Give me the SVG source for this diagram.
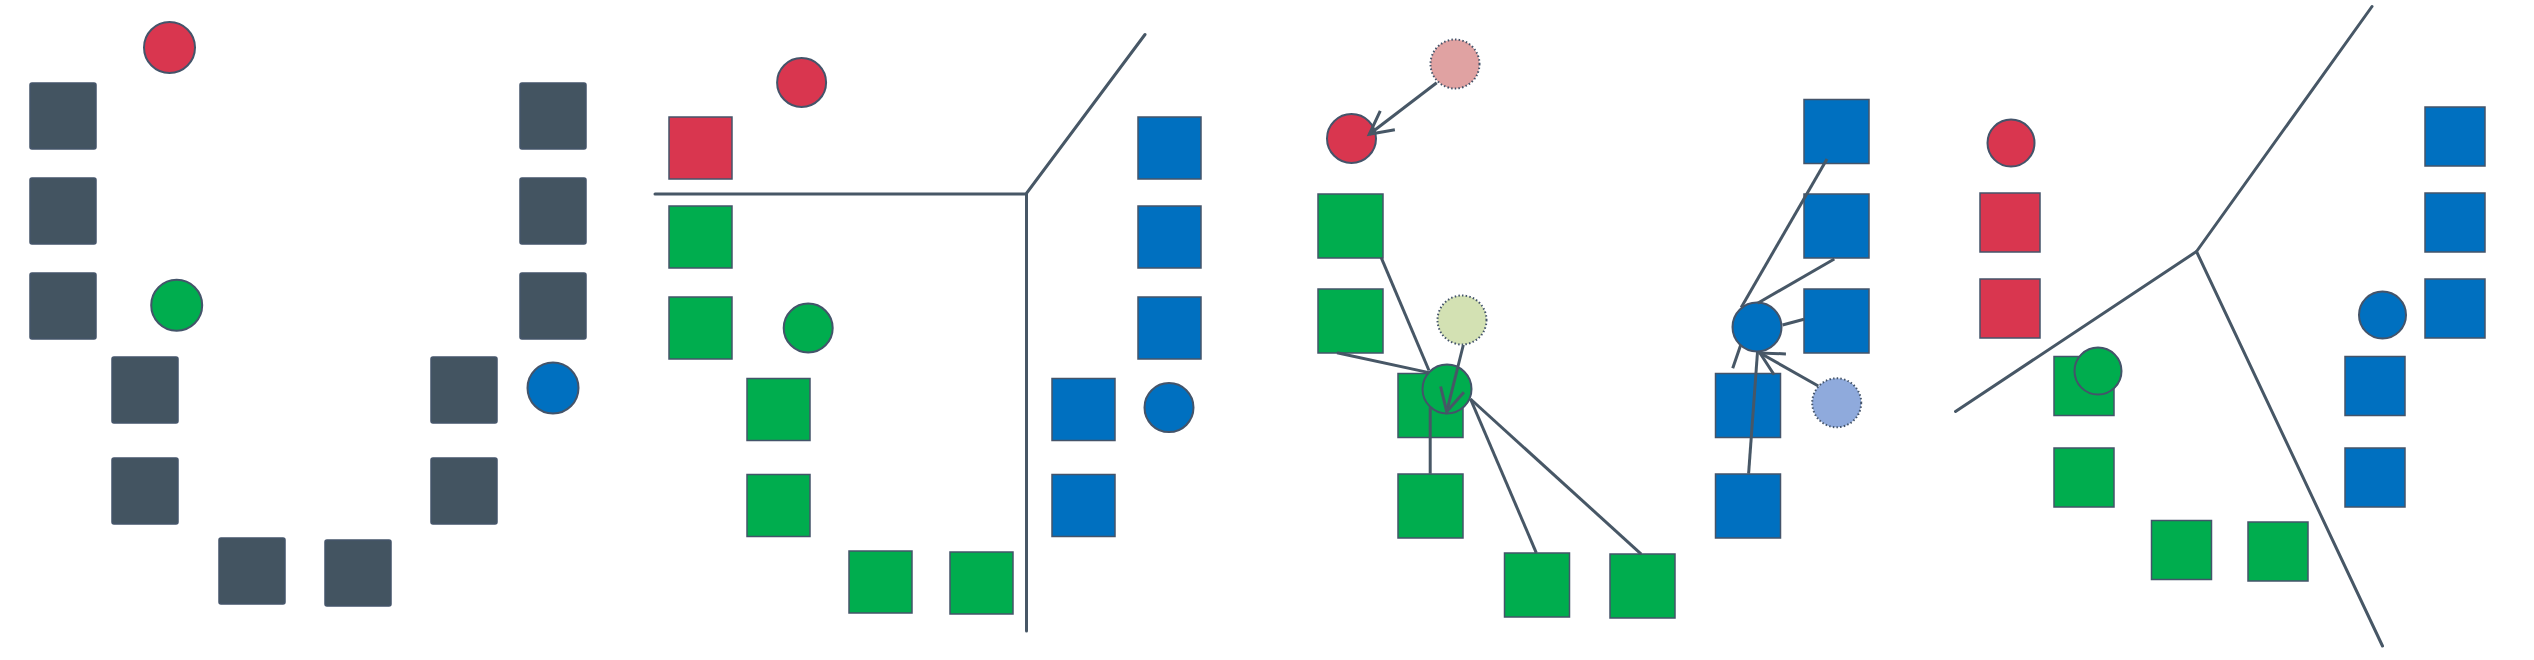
<svg xmlns="http://www.w3.org/2000/svg" width="2534" height="660" viewBox="0 0 2534 660">
<style>
.sq{stroke:#44546A;stroke-width:1.5}
.ci{stroke:#44546A;stroke-width:2}
.dot{stroke:#44546A;stroke-width:2;stroke-dasharray:1.5 2.2}
.dk{fill:#435461}
.rd{fill:#D9364F}
.gn{fill:#00AD4E}
.bl{fill:#0070C0}
.pk{fill:#E0A2A2}
.lg{fill:#D3E1B3}
.lb{fill:#8FAADC}
.ln{fill:none;stroke:#475766;stroke-width:3;stroke-linecap:round;stroke-linejoin:miter}
.cn{fill:none;stroke:#475766;stroke-width:3}
</style>
<defs>
<marker id="arr" markerUnits="userSpaceOnUse" viewBox="-28 -15 32 30" markerWidth="32" markerHeight="30" refX="0" refY="0" orient="auto">
<path d="M-23,-12 L0,0 L-23,12" fill="none" stroke="#475766" stroke-width="3"/>
</marker>
</defs>
<rect width="2534" height="660" fill="#FFFFFF"/>

<!-- Panel 1 -->
<g id="p1-nodes">
<g id="p1-s1"><rect class="sq dk" x="30" y="83" width="66" height="66" rx="2"/></g>
<g id="p1-s2"><rect class="sq dk" x="30" y="178" width="66" height="66" rx="2"/></g>
<g id="p1-s3"><rect class="sq dk" x="30" y="273" width="66" height="66" rx="2"/></g>
<g id="p1-s4"><rect class="sq dk" x="112" y="357" width="66" height="66" rx="2"/></g>
<g id="p1-s5"><rect class="sq dk" x="112" y="458" width="66" height="66" rx="2"/></g>
<g id="p1-s6"><rect class="sq dk" x="219" y="538" width="66" height="66" rx="2"/></g>
<g id="p1-s7"><rect class="sq dk" x="325" y="540" width="66" height="66" rx="2"/></g>
<g id="p1-s8"><rect class="sq dk" x="431" y="357" width="66" height="66" rx="2"/></g>
<g id="p1-s9"><rect class="sq dk" x="431" y="458" width="66" height="66" rx="2"/></g>
<g id="p1-s10"><rect class="sq dk" x="520" y="83" width="66" height="66" rx="2"/></g>
<g id="p1-s11"><rect class="sq dk" x="520" y="178" width="66" height="66" rx="2"/></g>
<g id="p1-s12"><rect class="sq dk" x="520" y="273" width="66" height="66" rx="2"/></g>
<g id="p1-c-red"><circle class="ci rd" cx="169.5" cy="47.5" r="25.5"/></g>
<g id="p1-c-green"><circle class="ci gn" cx="176.7" cy="305.3" r="25.5"/></g>
<g id="p1-c-blue"><circle class="ci bl" cx="553" cy="388" r="25.5"/></g>
</g>

<!-- Panel 2 -->
<g id="p2-nodes">
<g id="p2-r1"><rect class="sq rd" x="669" y="117" width="63" height="62"/></g>
<g id="p2-g1"><rect class="sq gn" x="669" y="206" width="63" height="62"/></g>
<g id="p2-g2"><rect class="sq gn" x="669" y="297" width="63" height="62"/></g>
<g id="p2-g3"><rect class="sq gn" x="747" y="378.5" width="63" height="62"/></g>
<g id="p2-g4"><rect class="sq gn" x="747" y="474.5" width="63" height="62"/></g>
<g id="p2-g5"><rect class="sq gn" x="849" y="551" width="63" height="62"/></g>
<g id="p2-g6"><rect class="sq gn" x="950" y="552" width="63" height="62"/></g>
<g id="p2-b1"><rect class="sq bl" x="1138" y="117" width="63" height="62"/></g>
<g id="p2-b2"><rect class="sq bl" x="1138" y="206" width="63" height="62"/></g>
<g id="p2-b3"><rect class="sq bl" x="1138" y="297" width="63" height="62"/></g>
<g id="p2-b4"><rect class="sq bl" x="1052" y="378.5" width="63" height="62"/></g>
<g id="p2-b5"><rect class="sq bl" x="1052" y="474.5" width="63" height="62"/></g>
<g id="p2-c-red"><circle class="ci rd" cx="801.6" cy="82.5" r="24.5"/></g>
<g id="p2-c-green"><circle class="ci gn" cx="808.2" cy="328" r="24.5"/></g>
<g id="p2-c-blue"><circle class="ci bl" cx="1169" cy="407.6" r="24.5"/></g>
</g>

<!-- Panel 3 -->
<g id="p3-nodes">
<g id="p3-g1"><rect class="sq gn" x="1318" y="194" width="65" height="64"/></g>
<g id="p3-g2"><rect class="sq gn" x="1318" y="289" width="65" height="64"/></g>
<g id="p3-g3"><rect class="sq gn" x="1398" y="373.5" width="65" height="64"/></g>
<g id="p3-g4"><rect class="sq gn" x="1398" y="474" width="65" height="64"/></g>
<g id="p3-g5"><rect class="sq gn" x="1504.5" y="553" width="65" height="64"/></g>
<g id="p3-g6"><rect class="sq gn" x="1610" y="554" width="65" height="64"/></g>
<g id="p3-b1"><rect class="sq bl" x="1804" y="99.5" width="65" height="64"/></g>
<g id="p3-b2"><rect class="sq bl" x="1804" y="194" width="65" height="64"/></g>
<g id="p3-b3"><rect class="sq bl" x="1804" y="289" width="65" height="64"/></g>
<g id="p3-b4"><rect class="sq bl" x="1715.5" y="373.5" width="65" height="64"/></g>
<g id="p3-b5"><rect class="sq bl" x="1715.5" y="474" width="65" height="64"/></g>
<g id="p3-c-pink"><circle class="dot pk" cx="1455" cy="64" r="24.5"/></g>
<g id="p3-c-red"><circle class="ci rd" cx="1351.5" cy="138.5" r="24.5"/></g>
<g id="p3-c-lgreen"><circle class="dot lg" cx="1462" cy="320" r="24.5"/></g>
<g id="p3-c-green"><circle class="ci gn" cx="1447" cy="389" r="24.5"/></g>
<g id="p3-c-blue"><circle class="ci bl" cx="1757" cy="327" r="24.5"/></g>
<g id="p3-c-lblue"><circle class="dot lb" cx="1836.7" cy="402.8" r="24.5"/></g>
</g>

<!-- Panel 4 -->
<g id="p4-nodes">
<g id="p4-r1"><rect class="sq rd" x="1980" y="193" width="60" height="59"/></g>
<g id="p4-r2"><rect class="sq rd" x="1980" y="279" width="60" height="59"/></g>
<g id="p4-g1"><rect class="sq gn" x="2054" y="356.5" width="60" height="59"/></g>
<g id="p4-g2"><rect class="sq gn" x="2054" y="448" width="60" height="59"/></g>
<g id="p4-g3"><rect class="sq gn" x="2151.5" y="520.5" width="60" height="59"/></g>
<g id="p4-g4"><rect class="sq gn" x="2248" y="522" width="60" height="59"/></g>
<g id="p4-b1"><rect class="sq bl" x="2425" y="107" width="60" height="59"/></g>
<g id="p4-b2"><rect class="sq bl" x="2425" y="193" width="60" height="59"/></g>
<g id="p4-b3"><rect class="sq bl" x="2425" y="279" width="60" height="59"/></g>
<g id="p4-b4"><rect class="sq bl" x="2345" y="356.5" width="60" height="59"/></g>
<g id="p4-b5"><rect class="sq bl" x="2345" y="448" width="60" height="59"/></g>
<g id="p4-c-red"><circle class="ci rd" cx="2011" cy="143" r="23.5"/></g>
<g id="p4-c-green"><circle class="ci gn" cx="2098" cy="371" r="23.5"/></g>
<g id="p4-c-blue"><circle class="ci bl" cx="2382.5" cy="315" r="23.5"/></g>
</g>

<!-- Connectors and boundary lines -->
<g id="connectors">
<path class="ln" d="M655,194 H1026 L1145,34.5"/>
<path class="ln" d="M1026.5,194 V631"/>
<path class="ln" d="M1955.5,411.5 L2196.5,251.5 L2372,6.5"/>
<path class="ln" d="M2196.5,251.5 L2382.5,646"/>

<line class="cn" x1="1436.7" y1="82.7" x2="1369.3" y2="134.3" marker-end="url(#arr)"/>
<line class="cn" x1="1463.3" y1="345" x2="1446.7" y2="411.7" marker-end="url(#arr)"/>
<line class="cn" x1="1381.2" y1="257.7" x2="1429" y2="370.5"/>
<line class="cn" x1="1337" y1="352.8" x2="1429" y2="372.6"/>
<line class="cn" x1="1430.2" y1="407.3" x2="1430.2" y2="473.7"/>
<line class="cn" x1="1470.5" y1="399" x2="1536.3" y2="552.8"/>
<line class="cn" x1="1470.5" y1="399" x2="1641.2" y2="554.1"/>

<line class="cn" x1="1827" y1="159" x2="1741.2" y2="307.4"/>
<line class="cn" x1="1834.3" y1="259" x2="1757.6" y2="303.2"/>
<line class="cn" x1="1804" y1="319.3" x2="1782.5" y2="325"/>
<line class="cn" x1="1740.7" y1="345" x2="1732.7" y2="368.3"/>
<line class="cn" x1="1748.6" y1="473.7" x2="1757.5" y2="352"/>
<line class="cn" x1="1818.3" y1="386" x2="1760" y2="353" marker-end="url(#arr)"/>
</g>
</svg>
